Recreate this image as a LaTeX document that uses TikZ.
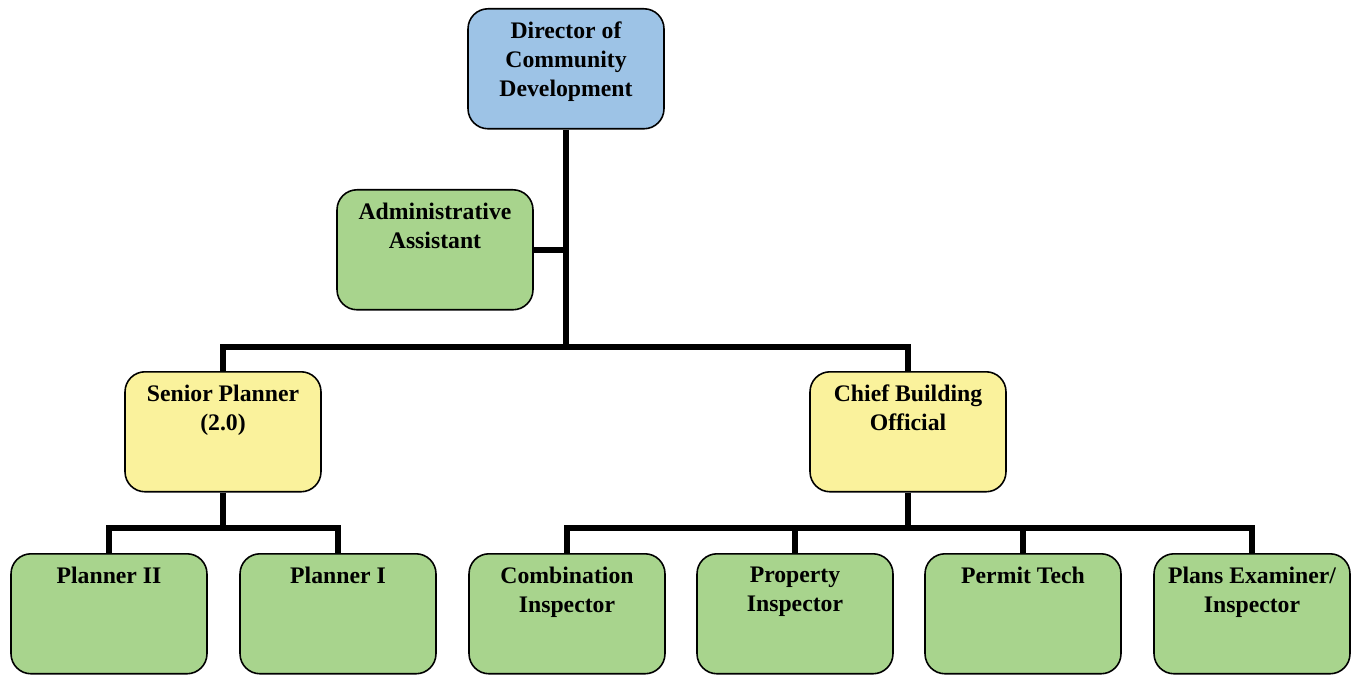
\documentclass[tikz,border=0pt]{standalone}
\usepackage{fontspec}
\setmainfont{Liberation Serif}
\usetikzlibrary{positioning}
\definecolor{dirblue}{RGB}{157,195,230}
\definecolor{staffgreen}{RGB}{168,212,141}
\definecolor{leadyellow}{RGB}{250,242,156}
\tikzstyle{unit} = [rectangle, draw=black, line width=0.9pt, rounded corners=0.4cm,
                    inner sep=0pt, anchor=north]
\tikzstyle{conn} = [draw, line width=3.3pt, line cap=butt, line join=miter]
\newcommand{\post}[1]{%
  \parbox[t][2.4cm][t]{3.92cm}{\vspace*{7.6pt}\centering\bfseries
  \fontsize{13.5}{16.4}\selectfont #1}}

\begin{document}
\begin{tikzpicture}[x=0.02cm, y=-0.02cm]
	\useasboundingbox (0,0) rectangle (1355,675);
	% top
	\node[unit, fill=dirblue] (dir) at (566,8) {\post{Director of\\Community\\Development}};
	\node[unit, fill=staffgreen] (aa) at (435,189) {\post{Administrative\\Assistant}};
	% second row
	\node[unit, fill=leadyellow] (sp) at (223,371) {\post{Senior Planner\\(2.0)}};
	\node[unit, fill=leadyellow] (cbo) at (908,371) {\post{Chief Building\\Official}};
	% bottom row
	\node[unit, fill=staffgreen] (p2) at (109,553) {\post{Planner II}};
	\node[unit, fill=staffgreen] (p1) at (338,553) {\post{Planner I}};
	\node[unit, fill=staffgreen] (ci) at (567,553) {\post{Combination\\Inspector}};
	\node[unit, fill=staffgreen] (pi) at (795,553) {\post{Property\\Inspector}};
	\node[unit, fill=staffgreen] (pt) at (1023,553) {\post{Permit Tech}};
	\node[unit, fill=staffgreen] (pe) at (1252,553) {\post{Plans Examiner/\\Inspector}};

	\coordinate (hub) at (566,347);
	\coordinate (sphub) at (223,528);
	\coordinate (cbohub) at (908,528);

	\draw[conn] (dir.south) -- (hub);
	\draw[conn] (aa.east) -- (aa.east -| hub);
	\draw[conn] (sp.north) |- (hub) -| (cbo.north);
	\draw[conn] (sp.south) -- (sphub);
	\draw[conn] (p2.north) |- (sphub) -| (p1.north);
	\draw[conn] (cbo.south) -- (cbohub);
	\draw[conn] (ci.north) |- (cbohub) -| (pe.north);
	\draw[conn] (pi.north) -- (pi.north |- cbohub);
	\draw[conn] (pt.north) -- (pt.north |- cbohub);
\end{tikzpicture}
\end{document}
